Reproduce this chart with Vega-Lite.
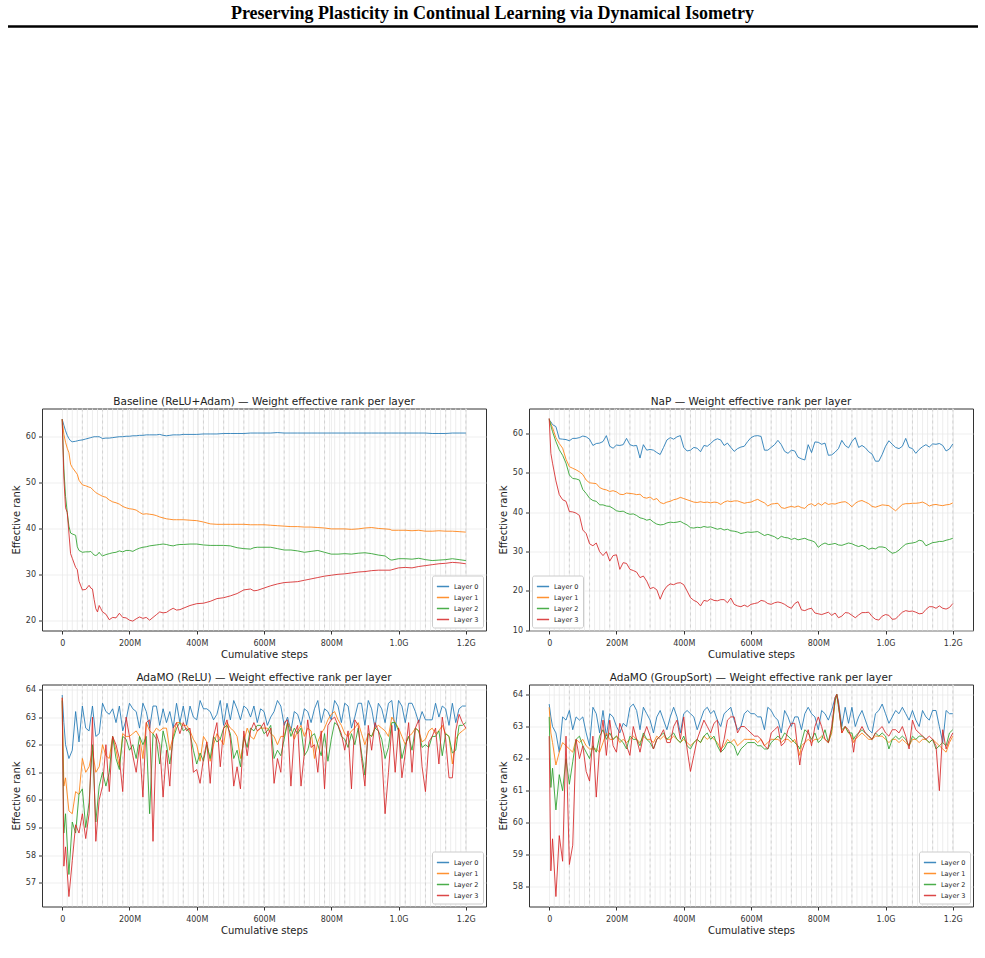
{
"$schema":"https://vega.github.io/schema/vega-lite/v6.json",
"background":"white",
"padding":{"left":6,"top":4.5,"right":5,"bottom":5},
"config":{
"font":"DejaVu Sans",
"view":{"stroke":"#333333","strokeWidth":1},
"axis":{"labelFont":"DejaVu Sans","labelFontSize":8,"labelColor":"#333333","titleFont":"DejaVu Sans","titleFontSize":10,"titleFontWeight":"normal","titleColor":"#222222","tickColor":"#333333","tickSize":3.5,"domain":false,"gridColor":"#ebebeb","gridWidth":0.8},
"axisX":{"labelPadding":5.5,"titlePadding":1.5},
"axisY":{"labelPadding":3,"titlePadding":4},
"title":{"font":"DejaVu Sans","fontSize":10.5,"fontWeight":"normal","color":"#222222","offset":1},
"legend":{"offset":3,"fillColor":"white","strokeColor":"#cccccc","cornerRadius":2,"padding":4,"symbolType":"stroke","symbolStrokeWidth":1.5,"symbolSize":150,"labelFontSize":6.5,"labelColor":"#222222","rowPadding":0}
},
"datasets":{
"minor":[{"x":15},{"x":30},{"x":45},{"x":60},{"x":75},{"x":90},{"x":105},{"x":120},{"x":135},{"x":150},{"x":165},{"x":180},{"x":195},{"x":210},{"x":225},{"x":240},{"x":255},{"x":270},{"x":285},{"x":300},{"x":315},{"x":330},{"x":345},{"x":360},{"x":375},{"x":390},{"x":405},{"x":420},{"x":435},{"x":450},{"x":465},{"x":480},{"x":495},{"x":510},{"x":525},{"x":540},{"x":555},{"x":570},{"x":585},{"x":600},{"x":615},{"x":630},{"x":645},{"x":660},{"x":675},{"x":690},{"x":705},{"x":720},{"x":735},{"x":750},{"x":765},{"x":780},{"x":795},{"x":810},{"x":825},{"x":840},{"x":855},{"x":870},{"x":885},{"x":900},{"x":915},{"x":930},{"x":945},{"x":960},{"x":975},{"x":990},{"x":1005},{"x":1020},{"x":1035},{"x":1050},{"x":1065},{"x":1080},{"x":1095},{"x":1110},{"x":1125},{"x":1140},{"x":1155},{"x":1170},{"x":1185},{"x":1200}],
"major":[{"x":60},{"x":120},{"x":180},{"x":240},{"x":300},{"x":360},{"x":420},{"x":480},{"x":540},{"x":600},{"x":660},{"x":720},{"x":780},{"x":840},{"x":900},{"x":960},{"x":1020},{"x":1080},{"x":1140},{"x":1200}],
"base":[
{"x":0,"L0":63.8,"L1":63.8,"L2":63.8,"L3":63.8},
{"x":5,"L0":62.5,"L1":60.5,"L2":53,"L3":51},
{"x":10,"L0":61.3,"L1":58.8,"L2":47,"L3":44.5},
{"x":15,"L0":60.3,"L1":57.5,"L2":43.5,"L3":43.5},
{"x":20,"L0":59.6,"L1":56.5,"L2":40.5,"L3":39},
{"x":25,"L0":59.1,"L1":54,"L2":39,"L3":34.5},
{"x":30,"L0":58.9,"L1":53.3,"L2":38.8,"L3":33.5},
{"x":40,"L0":59.0,"L1":52.3,"L2":38.5,"L3":31.5},
{"x":45,"L0":59.1,"L1":51.8,"L2":36,"L3":31},
{"x":50,"L0":59.2,"L1":50.5,"L2":35.2,"L3":28.5},
{"x":60,"L0":59.3,"L1":49.5,"L2":34.8,"L3":26.6},
{"x":70,"L0":59.5,"L1":49.3,"L2":34.9,"L3":26.7},
{"x":80,"L0":59.7,"L1":49.0,"L2":34.9,"L3":27.6},
{"x":85,"L0":59.8,"L1":48.9,"L2":35.0,"L3":27.0},
{"x":90,"L0":59.9,"L1":48.5,"L2":34.6,"L3":26.8},
{"x":95,"L0":60.0,"L1":48.2,"L2":34.2,"L3":24.5},
{"x":100,"L0":60.0,"L1":47.8,"L2":34.1,"L3":22.5},
{"x":105,"L0":60.0,"L1":47.6,"L2":34.3,"L3":21.8},
{"x":110,"L0":60.0,"L1":47.4,"L2":34.8,"L3":23.2},
{"x":115,"L0":59.8,"L1":47.2,"L2":34.3,"L3":22.5},
{"x":120,"L0":59.6,"L1":47.0,"L2":34.0,"L3":21.8},
{"x":130,"L0":59.7,"L1":46.8,"L2":34.3,"L3":21.3},
{"x":140,"L0":59.7,"L1":46.2,"L2":34.5,"L3":20.1},
{"x":150,"L0":59.8,"L1":45.8,"L2":34.7,"L3":20.6},
{"x":160,"L0":59.9,"L1":45.6,"L2":34.8,"L3":20.5},
{"x":170,"L0":60.0,"L1":45.3,"L2":35.1,"L3":21.5},
{"x":180,"L0":60.0,"L1":44.8,"L2":34.9,"L3":20.6},
{"x":190,"L0":60.1,"L1":44.5,"L2":35.2,"L3":20.5},
{"x":200,"L0":60.1,"L1":44.3,"L2":35.2,"L3":20.0},
{"x":210,"L0":60.2,"L1":44.2,"L2":35.0,"L3":19.8},
{"x":220,"L0":60.2,"L1":44.0,"L2":35.4,"L3":20.3},
{"x":230,"L0":60.3,"L1":43.5,"L2":35.7,"L3":20.7},
{"x":240,"L0":60.3,"L1":43.1,"L2":35.9,"L3":20.4},
{"x":250,"L0":60.4,"L1":43.2,"L2":36.0,"L3":20.6},
{"x":260,"L0":60.4,"L1":43.1,"L2":36.2,"L3":20.0},
{"x":270,"L0":60.4,"L1":43.0,"L2":36.3,"L3":20.6},
{"x":280,"L0":60.4,"L1":42.8,"L2":36.4,"L3":21.2},
{"x":290,"L0":60.5,"L1":42.5,"L2":36.5,"L3":21.8},
{"x":300,"L0":60.3,"L1":42.3,"L2":36.6,"L3":21.6},
{"x":310,"L0":60.2,"L1":42.1,"L2":36.5,"L3":21.7},
{"x":320,"L0":60.3,"L1":42.0,"L2":36.3,"L3":22.2},
{"x":330,"L0":60.4,"L1":41.9,"L2":36.2,"L3":22.6},
{"x":340,"L0":60.4,"L1":41.9,"L2":36.4,"L3":22.2},
{"x":350,"L0":60.4,"L1":41.9,"L2":36.5,"L3":22.3},
{"x":360,"L0":60.5,"L1":41.9,"L2":36.5,"L3":22.6},
{"x":380,"L0":60.5,"L1":41.8,"L2":36.6,"L3":23.2},
{"x":400,"L0":60.5,"L1":41.7,"L2":36.6,"L3":23.6},
{"x":420,"L0":60.6,"L1":41.4,"L2":36.4,"L3":23.7},
{"x":440,"L0":60.6,"L1":41.0,"L2":36.3,"L3":24.1},
{"x":460,"L0":60.6,"L1":40.9,"L2":36.3,"L3":24.7},
{"x":480,"L0":60.7,"L1":40.9,"L2":36.3,"L3":24.9},
{"x":500,"L0":60.7,"L1":40.9,"L2":36.2,"L3":25.3},
{"x":520,"L0":60.7,"L1":40.9,"L2":35.8,"L3":25.8},
{"x":540,"L0":60.7,"L1":40.9,"L2":35.6,"L3":26.6},
{"x":560,"L0":60.8,"L1":40.8,"L2":35.5,"L3":26.8},
{"x":570,"L0":60.8,"L1":40.8,"L2":35.8,"L3":26.4},
{"x":580,"L0":60.8,"L1":40.8,"L2":35.9,"L3":26.5},
{"x":600,"L0":60.8,"L1":40.8,"L2":35.9,"L3":27.0},
{"x":620,"L0":60.8,"L1":40.7,"L2":35.9,"L3":27.5},
{"x":640,"L0":60.9,"L1":40.6,"L2":35.6,"L3":27.9},
{"x":660,"L0":60.8,"L1":40.5,"L2":35.3,"L3":28.2},
{"x":680,"L0":60.8,"L1":40.4,"L2":35.3,"L3":28.3},
{"x":700,"L0":60.8,"L1":40.4,"L2":35.1,"L3":28.4},
{"x":720,"L0":60.8,"L1":40.3,"L2":34.8,"L3":28.7},
{"x":740,"L0":60.8,"L1":40.3,"L2":35.0,"L3":29.0},
{"x":760,"L0":60.8,"L1":40.2,"L2":35.2,"L3":29.3},
{"x":780,"L0":60.8,"L1":40.1,"L2":34.8,"L3":29.6},
{"x":800,"L0":60.8,"L1":39.9,"L2":34.4,"L3":29.8},
{"x":820,"L0":60.8,"L1":39.9,"L2":34.4,"L3":30.0},
{"x":840,"L0":60.8,"L1":39.9,"L2":34.5,"L3":30.1},
{"x":860,"L0":60.8,"L1":39.8,"L2":34.4,"L3":30.3},
{"x":880,"L0":60.8,"L1":39.9,"L2":34.6,"L3":30.5},
{"x":900,"L0":60.8,"L1":40.1,"L2":34.7,"L3":30.6},
{"x":920,"L0":60.8,"L1":40.2,"L2":34.5,"L3":30.8},
{"x":940,"L0":60.8,"L1":40.0,"L2":34.2,"L3":30.9},
{"x":960,"L0":60.8,"L1":39.9,"L2":34.0,"L3":30.9},
{"x":975,"L0":60.8,"L1":39.8,"L2":33.2,"L3":30.9},
{"x":980,"L0":60.8,"L1":39.6,"L2":33.1,"L3":31.0},
{"x":1000,"L0":60.8,"L1":39.6,"L2":33.4,"L3":31.4},
{"x":1020,"L0":60.8,"L1":39.6,"L2":33.4,"L3":31.5},
{"x":1040,"L0":60.8,"L1":39.5,"L2":33.3,"L3":31.4},
{"x":1060,"L0":60.8,"L1":39.6,"L2":33.5,"L3":31.7},
{"x":1080,"L0":60.8,"L1":39.4,"L2":33.2,"L3":31.9},
{"x":1100,"L0":60.7,"L1":39.4,"L2":33.0,"L3":32.1},
{"x":1120,"L0":60.7,"L1":39.5,"L2":33.1,"L3":32.3},
{"x":1140,"L0":60.7,"L1":39.4,"L2":33.2,"L3":32.4},
{"x":1160,"L0":60.8,"L1":39.4,"L2":33.4,"L3":32.6},
{"x":1180,"L0":60.8,"L1":39.3,"L2":33.2,"L3":32.5},
{"x":1200,"L0":60.8,"L1":39.2,"L2":33.0,"L3":32.3}
],
"nap":[
{"x":0,"L0":63.5,"L1":63.5,"L2":63.8,"L3":63.9},
{"x":5,"L0":63.0,"L1":62.5,"L2":62.0,"L3":55.0},
{"x":10,"L0":62.3,"L1":61.5,"L2":60.5,"L3":52.5},
{"x":20,"L0":61.8,"L1":59.0,"L2":58.0,"L3":48.0},
{"x":30,"L0":58.7,"L1":57.5,"L2":55.9,"L3":44.5},
{"x":40,"L0":58.6,"L1":56.3,"L2":54.5,"L3":43.2},
{"x":50,"L0":58.5,"L1":53.5,"L2":52.5,"L3":42.8},
{"x":60,"L0":58.2,"L1":51.6,"L2":49.5,"L3":40.2},
{"x":70,"L0":58.8,"L1":51.2,"L2":48.6,"L3":40.1},
{"x":80,"L0":58.8,"L1":50.8,"L2":48.5,"L3":39.8},
{"x":90,"L0":59.0,"L1":50.3,"L2":48.2,"L3":39.2},
{"x":100,"L0":59.4,"L1":49.6,"L2":45.8,"L3":35.5},
{"x":110,"L0":59.2,"L1":48.2,"L2":44.8,"L3":34.6},
{"x":120,"L0":58.6,"L1":47.5,"L2":43.6,"L3":32.0},
{"x":130,"L0":57.0,"L1":47.4,"L2":43.0,"L3":31.5},
{"x":140,"L0":57.5,"L1":47.3,"L2":42.8,"L3":32.2},
{"x":150,"L0":57.6,"L1":46.3,"L2":41.9,"L3":30.0},
{"x":160,"L0":58.0,"L1":45.9,"L2":41.9,"L3":29.0},
{"x":170,"L0":59.5,"L1":45.7,"L2":41.6,"L3":30.0},
{"x":180,"L0":56.8,"L1":45.3,"L2":41.5,"L3":27.6},
{"x":190,"L0":56.3,"L1":45.5,"L2":41.0,"L3":29.0},
{"x":200,"L0":57.1,"L1":45.2,"L2":40.4,"L3":29.2},
{"x":210,"L0":57.0,"L1":44.6,"L2":40.2,"L3":25.5},
{"x":220,"L0":57.2,"L1":44.5,"L2":40.3,"L3":27.2},
{"x":230,"L0":58.8,"L1":44.9,"L2":39.8,"L3":27.0},
{"x":240,"L0":57.2,"L1":44.8,"L2":39.5,"L3":25.5},
{"x":250,"L0":56.9,"L1":44.7,"L2":39.6,"L3":25.2},
{"x":260,"L0":57.0,"L1":44.5,"L2":39.2,"L3":24.8},
{"x":270,"L0":53.8,"L1":44.6,"L2":38.6,"L3":23.4},
{"x":280,"L0":57.2,"L1":43.8,"L2":38.4,"L3":23.8},
{"x":290,"L0":55.8,"L1":43.6,"L2":38.0,"L3":22.5},
{"x":300,"L0":56.0,"L1":43.9,"L2":38.2,"L3":20.6},
{"x":310,"L0":55.8,"L1":43.2,"L2":37.5,"L3":20.9},
{"x":320,"L0":55.2,"L1":43.5,"L2":37.0,"L3":20.3},
{"x":330,"L0":54.7,"L1":42.5,"L2":36.8,"L3":17.9},
{"x":340,"L0":56.5,"L1":42.2,"L2":36.9,"L3":20.0},
{"x":350,"L0":58.4,"L1":42.6,"L2":37.3,"L3":21.2},
{"x":360,"L0":59.0,"L1":42.8,"L2":37.5,"L3":21.8},
{"x":370,"L0":58.6,"L1":43.2,"L2":37.4,"L3":21.6},
{"x":380,"L0":59.2,"L1":43.4,"L2":37.5,"L3":22.0},
{"x":390,"L0":59.5,"L1":43.8,"L2":37.7,"L3":22.1},
{"x":400,"L0":56.5,"L1":43.5,"L2":37.2,"L3":21.6},
{"x":410,"L0":55.6,"L1":43.2,"L2":36.8,"L3":20.0},
{"x":420,"L0":55.8,"L1":42.9,"L2":36.1,"L3":18.3},
{"x":430,"L0":56.5,"L1":42.6,"L2":36.0,"L3":17.6},
{"x":440,"L0":56.3,"L1":42.5,"L2":36.2,"L3":17.2},
{"x":450,"L0":55.4,"L1":42.7,"L2":36.1,"L3":16.2},
{"x":460,"L0":57.0,"L1":42.5,"L2":36.4,"L3":17.6},
{"x":470,"L0":56.8,"L1":42.6,"L2":36.2,"L3":17.4},
{"x":480,"L0":57.5,"L1":42.4,"L2":36.3,"L3":18.0},
{"x":490,"L0":58.3,"L1":42.6,"L2":36.0,"L3":17.6},
{"x":500,"L0":58.7,"L1":42.5,"L2":35.7,"L3":17.5},
{"x":510,"L0":58.4,"L1":42.0,"L2":35.9,"L3":17.8},
{"x":520,"L0":57.0,"L1":42.6,"L2":35.5,"L3":17.8},
{"x":530,"L0":57.6,"L1":42.9,"L2":35.7,"L3":17.0},
{"x":540,"L0":56.5,"L1":42.7,"L2":35.3,"L3":18.2},
{"x":550,"L0":55.5,"L1":42.9,"L2":35.2,"L3":16.6},
{"x":560,"L0":56.2,"L1":42.9,"L2":35.0,"L3":16.2},
{"x":570,"L0":56.6,"L1":42.6,"L2":34.6,"L3":16.0},
{"x":580,"L0":56.8,"L1":42.3,"L2":34.8,"L3":16.4},
{"x":590,"L0":58.0,"L1":42.5,"L2":35.0,"L3":16.0},
{"x":600,"L0":59.0,"L1":42.6,"L2":34.9,"L3":16.6},
{"x":610,"L0":59.4,"L1":43.0,"L2":35.0,"L3":16.8},
{"x":620,"L0":59.5,"L1":43.3,"L2":35.1,"L3":17.0},
{"x":630,"L0":59.3,"L1":42.8,"L2":34.6,"L3":17.6},
{"x":640,"L0":55.8,"L1":42.4,"L2":34.1,"L3":17.4},
{"x":650,"L0":55.8,"L1":41.6,"L2":34.4,"L3":16.8},
{"x":660,"L0":56.5,"L1":42.1,"L2":34.1,"L3":16.6},
{"x":670,"L0":57.2,"L1":42.2,"L2":33.8,"L3":17.0},
{"x":680,"L0":58.3,"L1":42.3,"L2":33.2,"L3":17.2},
{"x":690,"L0":57.2,"L1":41.2,"L2":33.9,"L3":17.0},
{"x":700,"L0":55.5,"L1":41.0,"L2":33.6,"L3":16.6},
{"x":710,"L0":55.0,"L1":41.3,"L2":33.5,"L3":16.0},
{"x":720,"L0":55.8,"L1":41.5,"L2":33.1,"L3":15.6},
{"x":730,"L0":55.6,"L1":41.3,"L2":33.4,"L3":16.8},
{"x":740,"L0":54.0,"L1":41.6,"L2":33.0,"L3":17.3},
{"x":750,"L0":53.6,"L1":41.2,"L2":33.2,"L3":15.2},
{"x":760,"L0":53.3,"L1":41.0,"L2":33.4,"L3":15.0},
{"x":770,"L0":57.2,"L1":41.9,"L2":33.0,"L3":15.4},
{"x":780,"L0":55.2,"L1":42.2,"L2":32.8,"L3":15.6},
{"x":790,"L0":57.9,"L1":41.6,"L2":32.4,"L3":14.4},
{"x":800,"L0":57.8,"L1":42.3,"L2":31.1,"L3":14.2},
{"x":810,"L0":57.3,"L1":41.8,"L2":31.8,"L3":14.0},
{"x":820,"L0":57.6,"L1":42.5,"L2":32.2,"L3":14.3},
{"x":830,"L0":54.5,"L1":42.0,"L2":31.8,"L3":14.6},
{"x":840,"L0":54.6,"L1":42.2,"L2":31.9,"L3":13.8},
{"x":850,"L0":55.3,"L1":42.1,"L2":32.1,"L3":14.4},
{"x":860,"L0":56.2,"L1":42.4,"L2":31.7,"L3":13.2},
{"x":870,"L0":58.3,"L1":42.6,"L2":31.6,"L3":13.6},
{"x":880,"L0":57.0,"L1":42.7,"L2":31.9,"L3":14.5},
{"x":890,"L0":56.4,"L1":42.2,"L2":32.2,"L3":14.4},
{"x":900,"L0":58.0,"L1":41.4,"L2":32.0,"L3":13.8},
{"x":910,"L0":59.0,"L1":42.3,"L2":31.6,"L3":13.2},
{"x":920,"L0":56.5,"L1":42.8,"L2":31.3,"L3":13.9},
{"x":930,"L0":57.0,"L1":43.0,"L2":31.6,"L3":14.5},
{"x":940,"L0":56.4,"L1":42.6,"L2":31.2,"L3":14.5},
{"x":950,"L0":55.4,"L1":42.2,"L2":30.6,"L3":14.6},
{"x":960,"L0":54.8,"L1":41.5,"L2":30.9,"L3":13.5},
{"x":970,"L0":53.0,"L1":41.3,"L2":30.7,"L3":12.8},
{"x":980,"L0":53.0,"L1":41.6,"L2":31.2,"L3":12.6},
{"x":990,"L0":54.7,"L1":41.9,"L2":31.2,"L3":13.6},
{"x":1000,"L0":56.8,"L1":41.8,"L2":31.0,"L3":14.0},
{"x":1010,"L0":58.2,"L1":41.7,"L2":30.2,"L3":13.8},
{"x":1020,"L0":57.3,"L1":41.0,"L2":29.6,"L3":12.8},
{"x":1030,"L0":56.5,"L1":40.4,"L2":29.8,"L3":12.9},
{"x":1040,"L0":56.2,"L1":41.2,"L2":30.4,"L3":13.8},
{"x":1050,"L0":56.8,"L1":42.0,"L2":31.2,"L3":14.6},
{"x":1060,"L0":58.8,"L1":42.2,"L2":31.9,"L3":15.0},
{"x":1070,"L0":56.5,"L1":42.2,"L2":32.1,"L3":14.8},
{"x":1080,"L0":56.2,"L1":42.3,"L2":32.2,"L3":14.9},
{"x":1090,"L0":55.0,"L1":42.3,"L2":32.4,"L3":14.6},
{"x":1100,"L0":56.0,"L1":42.4,"L2":32.9,"L3":14.2},
{"x":1110,"L0":56.7,"L1":42.6,"L2":32.7,"L3":14.3},
{"x":1120,"L0":57.2,"L1":42.2,"L2":31.5,"L3":15.3},
{"x":1130,"L0":56.6,"L1":41.6,"L2":31.9,"L3":16.0},
{"x":1140,"L0":57.4,"L1":41.9,"L2":32.3,"L3":16.0},
{"x":1150,"L0":57.3,"L1":42.0,"L2":32.4,"L3":15.6},
{"x":1160,"L0":57.5,"L1":41.8,"L2":32.6,"L3":16.2},
{"x":1170,"L0":57.0,"L1":41.7,"L2":32.6,"L3":15.6},
{"x":1180,"L0":55.6,"L1":41.9,"L2":32.9,"L3":15.4},
{"x":1190,"L0":56.1,"L1":42.0,"L2":33.1,"L3":15.8},
{"x":1200,"L0":57.4,"L1":42.4,"L2":33.4,"L3":16.8}
],
"relu":[
{"x":0,"L0":63.8,"L1":63.7,"L2":63.6,"L3":63.7},
{"x":5,"L0":62.8,"L1":60.5,"L2":58.8,"L3":57.6},
{"x":10,"L0":62.0,"L1":60.8,"L2":59.5,"L3":58.3},
{"x":20,"L0":61.5,"L1":59.6,"L2":57.3,"L3":56.5},
{"x":30,"L0":61.8,"L1":59.5,"L2":59.2,"L3":57.8},
{"x":40,"L0":63.2,"L1":60.3,"L2":58.8,"L3":59.1},
{"x":50,"L0":62.1,"L1":60.2,"L2":60.2,"L3":58.8},
{"x":60,"L0":63.4,"L1":61.5,"L2":60.4,"L3":59.5},
{"x":70,"L0":62.6,"L1":61.0,"L2":59.0,"L3":58.6},
{"x":80,"L0":62.5,"L1":61.2,"L2":59.9,"L3":59.5},
{"x":90,"L0":63.4,"L1":61.8,"L2":62.0,"L3":63.0},
{"x":100,"L0":62.3,"L1":61.0,"L2":59.2,"L3":58.5},
{"x":110,"L0":62.4,"L1":61.2,"L2":60.5,"L3":60.0},
{"x":120,"L0":63.5,"L1":62.0,"L2":61.0,"L3":60.5},
{"x":130,"L0":63.2,"L1":61.6,"L2":60.5,"L3":62.0},
{"x":140,"L0":63.1,"L1":61.5,"L2":61.0,"L3":60.3},
{"x":150,"L0":63.3,"L1":62.3,"L2":62.3,"L3":62.3},
{"x":160,"L0":62.8,"L1":61.8,"L2":61.5,"L3":62.0},
{"x":170,"L0":63.4,"L1":61.2,"L2":61.1,"L3":61.5},
{"x":180,"L0":62.5,"L1":62.4,"L2":62.3,"L3":60.3},
{"x":190,"L0":62.9,"L1":62.3,"L2":62.2,"L3":63.0},
{"x":200,"L0":63.5,"L1":62.3,"L2":61.8,"L3":62.3},
{"x":210,"L0":63.3,"L1":62.4,"L2":62.0,"L3":61.6},
{"x":220,"L0":63.2,"L1":62.5,"L2":61.5,"L3":61.0},
{"x":230,"L0":62.6,"L1":62.3,"L2":62.3,"L3":62.0},
{"x":240,"L0":63.5,"L1":61.5,"L2":62.0,"L3":60.1},
{"x":250,"L0":63.2,"L1":62.8,"L2":62.3,"L3":62.8},
{"x":260,"L0":62.6,"L1":62.5,"L2":59.5,"L3":62.9},
{"x":270,"L0":63.4,"L1":62.4,"L2":62.4,"L3":58.5},
{"x":280,"L0":63.4,"L1":62.6,"L2":62.2,"L3":62.4},
{"x":290,"L0":62.7,"L1":62.5,"L2":61.3,"L3":62.0},
{"x":300,"L0":63.3,"L1":62.6,"L2":62.5,"L3":60.1},
{"x":310,"L0":62.8,"L1":62.6,"L2":62.0,"L3":61.8},
{"x":320,"L0":63.2,"L1":61.8,"L2":61.3,"L3":60.5},
{"x":330,"L0":62.6,"L1":62.3,"L2":62.2,"L3":62.6},
{"x":340,"L0":63.5,"L1":62.8,"L2":62.6,"L3":62.8},
{"x":350,"L0":62.8,"L1":62.8,"L2":62.8,"L3":62.4},
{"x":360,"L0":63.4,"L1":62.7,"L2":62.5,"L3":62.8},
{"x":370,"L0":62.7,"L1":62.7,"L2":62.6,"L3":62.5},
{"x":380,"L0":63.4,"L1":62.5,"L2":62.4,"L3":62.6},
{"x":390,"L0":63.0,"L1":62.2,"L2":61.8,"L3":61.0},
{"x":400,"L0":62.9,"L1":62.0,"L2":61.3,"L3":61.1},
{"x":410,"L0":63.6,"L1":61.4,"L2":61.7,"L3":60.6},
{"x":420,"L0":63.3,"L1":62.3,"L2":61.4,"L3":61.5},
{"x":430,"L0":63.3,"L1":62.1,"L2":62.0,"L3":62.1},
{"x":440,"L0":63.2,"L1":61.4,"L2":61.5,"L3":60.6},
{"x":450,"L0":62.9,"L1":62.0,"L2":62.3,"L3":62.3},
{"x":460,"L0":63.1,"L1":62.4,"L2":62.1,"L3":62.8},
{"x":470,"L0":63.6,"L1":62.2,"L2":62.2,"L3":61.2},
{"x":480,"L0":62.7,"L1":62.0,"L2":62.6,"L3":62.6},
{"x":490,"L0":63.5,"L1":62.8,"L2":62.7,"L3":62.9},
{"x":500,"L0":62.9,"L1":62.6,"L2":62.4,"L3":62.2},
{"x":510,"L0":63.6,"L1":62.5,"L2":61.5,"L3":60.5},
{"x":520,"L0":63.3,"L1":62.3,"L2":61.8,"L3":61.2},
{"x":530,"L0":62.9,"L1":61.5,"L2":61.2,"L3":60.4},
{"x":540,"L0":63.4,"L1":62.1,"L2":62.3,"L3":62.5},
{"x":550,"L0":63.3,"L1":62.6,"L2":61.9,"L3":61.6},
{"x":560,"L0":63.0,"L1":62.3,"L2":62.6,"L3":62.5},
{"x":570,"L0":63.4,"L1":62.2,"L2":62.5,"L3":62.8},
{"x":580,"L0":62.8,"L1":62.5,"L2":62.7,"L3":62.5},
{"x":590,"L0":63.3,"L1":62.6,"L2":62.7,"L3":62.6},
{"x":600,"L0":63.2,"L1":62.6,"L2":62.4,"L3":62.8},
{"x":610,"L0":62.7,"L1":62.6,"L2":62.5,"L3":62.3},
{"x":620,"L0":63.0,"L1":62.4,"L2":62.7,"L3":62.6},
{"x":630,"L0":63.2,"L1":62.3,"L2":61.5,"L3":60.6},
{"x":640,"L0":63.6,"L1":62.0,"L2":61.8,"L3":61.5},
{"x":650,"L0":63.4,"L1":62.3,"L2":61.6,"L3":61.0},
{"x":660,"L0":62.7,"L1":62.3,"L2":62.2,"L3":62.8},
{"x":670,"L0":63.0,"L1":62.8,"L2":62.8,"L3":62.9},
{"x":680,"L0":62.5,"L1":62.6,"L2":62.3,"L3":60.5},
{"x":690,"L0":63.2,"L1":62.2,"L2":62.6,"L3":62.4},
{"x":700,"L0":63.1,"L1":62.5,"L2":62.4,"L3":62.7},
{"x":710,"L0":62.7,"L1":62.7,"L2":62.6,"L3":60.5},
{"x":720,"L0":63.3,"L1":62.3,"L2":61.6,"L3":61.7},
{"x":730,"L0":63.2,"L1":62.6,"L2":61.8,"L3":62.9},
{"x":740,"L0":62.8,"L1":62.5,"L2":62.3,"L3":61.9},
{"x":750,"L0":63.3,"L1":61.5,"L2":62.4,"L3":62.0},
{"x":760,"L0":63.6,"L1":62.1,"L2":62.0,"L3":61.0},
{"x":770,"L0":62.8,"L1":62.4,"L2":61.6,"L3":62.5},
{"x":780,"L0":63.3,"L1":62.6,"L2":62.4,"L3":60.4},
{"x":790,"L0":63.2,"L1":62.9,"L2":61.4,"L3":62.7},
{"x":800,"L0":62.9,"L1":63.1,"L2":62.2,"L3":62.9},
{"x":810,"L0":63.6,"L1":63.2,"L2":62.8,"L3":63.0},
{"x":820,"L0":63.4,"L1":62.9,"L2":62.7,"L3":62.7},
{"x":830,"L0":62.8,"L1":62.7,"L2":62.3,"L3":62.4},
{"x":840,"L0":63.5,"L1":62.4,"L2":62.2,"L3":61.8},
{"x":850,"L0":63.4,"L1":62.3,"L2":61.9,"L3":62.5},
{"x":860,"L0":62.6,"L1":62.5,"L2":62.4,"L3":60.4},
{"x":870,"L0":63.0,"L1":62.6,"L2":62.0,"L3":62.9},
{"x":880,"L0":63.5,"L1":62.8,"L2":62.6,"L3":62.7},
{"x":890,"L0":63.5,"L1":62.4,"L2":61.7,"L3":61.5},
{"x":900,"L0":62.7,"L1":62.0,"L2":60.9,"L3":60.5},
{"x":910,"L0":63.6,"L1":62.4,"L2":62.4,"L3":62.7},
{"x":920,"L0":63.3,"L1":62.3,"L2":62.3,"L3":61.8},
{"x":930,"L0":62.6,"L1":62.6,"L2":62.6,"L3":62.8},
{"x":940,"L0":63.5,"L1":62.7,"L2":62.5,"L3":62.5},
{"x":950,"L0":63.3,"L1":62.6,"L2":62.2,"L3":61.7},
{"x":960,"L0":62.8,"L1":62.5,"L2":61.5,"L3":59.5},
{"x":970,"L0":63.5,"L1":62.3,"L2":61.9,"L3":61.0},
{"x":980,"L0":63.6,"L1":63.0,"L2":62.8,"L3":62.7},
{"x":990,"L0":62.5,"L1":62.8,"L2":62.8,"L3":61.0},
{"x":1000,"L0":63.6,"L1":62.6,"L2":62.5,"L3":62.6},
{"x":1010,"L0":63.4,"L1":62.3,"L2":61.5,"L3":60.8},
{"x":1020,"L0":62.8,"L1":62.0,"L2":62.0,"L3":61.7},
{"x":1030,"L0":63.5,"L1":62.3,"L2":62.3,"L3":62.8},
{"x":1040,"L0":63.5,"L1":62.4,"L2":61.8,"L3":61.0},
{"x":1050,"L0":63.2,"L1":62.6,"L2":62.6,"L3":62.6},
{"x":1060,"L0":62.8,"L1":62.5,"L2":62.5,"L3":62.9},
{"x":1070,"L0":63.2,"L1":62.1,"L2":61.9,"L3":61.2},
{"x":1080,"L0":62.9,"L1":62.2,"L2":62.0,"L3":60.3},
{"x":1090,"L0":62.9,"L1":62.5,"L2":61.9,"L3":62.1},
{"x":1100,"L0":62.9,"L1":62.6,"L2":62.3,"L3":62.3},
{"x":1110,"L0":63.5,"L1":62.4,"L2":62.3,"L3":62.6},
{"x":1120,"L0":63.0,"L1":62.5,"L2":62.5,"L3":61.3},
{"x":1130,"L0":63.4,"L1":62.7,"L2":61.6,"L3":63.0},
{"x":1140,"L0":63.3,"L1":62.4,"L2":62.4,"L3":62.2},
{"x":1150,"L0":62.7,"L1":62.3,"L2":62.3,"L3":60.8},
{"x":1160,"L0":63.5,"L1":61.3,"L2":61.7,"L3":60.8},
{"x":1170,"L0":62.8,"L1":62.2,"L2":61.8,"L3":62.5},
{"x":1180,"L0":63.3,"L1":62.4,"L2":62.7,"L3":63.1},
{"x":1190,"L0":63.4,"L1":62.5,"L2":62.7,"L3":62.8},
{"x":1200,"L0":63.4,"L1":62.6,"L2":62.8,"L3":62.6}
],
"gs":[
{"x":0,"L0":63.7,"L1":63.6,"L2":63.3,"L3":62.7},
{"x":5,"L0":63.3,"L1":62.8,"L2":61.1,"L3":58.5},
{"x":10,"L0":63.0,"L1":62.5,"L2":61.7,"L3":59.5},
{"x":20,"L0":62.8,"L1":61.8,"L2":60.4,"L3":57.7},
{"x":30,"L0":62.2,"L1":62.2,"L2":61.5,"L3":59.6},
{"x":40,"L0":63.3,"L1":62.5,"L2":61.0,"L3":58.8},
{"x":50,"L0":63.2,"L1":62.4,"L2":62.0,"L3":62.7},
{"x":60,"L0":63.5,"L1":62.3,"L2":61.2,"L3":58.7},
{"x":70,"L0":62.9,"L1":62.2,"L2":61.9,"L3":59.3},
{"x":80,"L0":63.3,"L1":62.6,"L2":62.6,"L3":62.6},
{"x":90,"L0":63.2,"L1":62.5,"L2":62.7,"L3":62.0},
{"x":100,"L0":63.3,"L1":62.6,"L2":62.4,"L3":62.4},
{"x":110,"L0":62.8,"L1":62.4,"L2":62.2,"L3":61.6},
{"x":120,"L0":62.4,"L1":62.3,"L2":62.0,"L3":61.3},
{"x":130,"L0":63.6,"L1":62.3,"L2":62.4,"L3":62.7},
{"x":140,"L0":63.4,"L1":62.3,"L2":62.2,"L3":60.8},
{"x":150,"L0":62.8,"L1":62.2,"L2":62.7,"L3":62.4},
{"x":160,"L0":63.5,"L1":62.5,"L2":62.9,"L3":63.2},
{"x":170,"L0":62.7,"L1":62.8,"L2":62.6,"L3":62.1},
{"x":180,"L0":63.4,"L1":62.6,"L2":62.8,"L3":63.2},
{"x":190,"L0":63.3,"L1":62.6,"L2":62.6,"L3":62.4},
{"x":200,"L0":63.0,"L1":62.7,"L2":62.7,"L3":62.2},
{"x":210,"L0":62.8,"L1":62.5,"L2":62.6,"L3":63.1},
{"x":220,"L0":63.1,"L1":62.6,"L2":62.5,"L3":62.8},
{"x":230,"L0":63.0,"L1":62.5,"L2":62.3,"L3":62.4},
{"x":240,"L0":63.6,"L1":62.6,"L2":62.7,"L3":62.1},
{"x":250,"L0":63.7,"L1":62.7,"L2":62.6,"L3":63.0},
{"x":260,"L0":63.5,"L1":62.6,"L2":62.6,"L3":62.6},
{"x":270,"L0":62.9,"L1":62.5,"L2":62.4,"L3":62.2},
{"x":280,"L0":63.6,"L1":62.7,"L2":62.8,"L3":62.7},
{"x":290,"L0":63.4,"L1":62.6,"L2":62.6,"L3":63.0},
{"x":300,"L0":63.2,"L1":62.6,"L2":62.5,"L3":62.7},
{"x":310,"L0":62.8,"L1":62.5,"L2":62.3,"L3":62.3},
{"x":320,"L0":63.3,"L1":62.7,"L2":62.6,"L3":62.6},
{"x":330,"L0":63.5,"L1":62.6,"L2":62.7,"L3":62.7},
{"x":340,"L0":63.2,"L1":62.7,"L2":62.8,"L3":62.9},
{"x":350,"L0":62.9,"L1":62.6,"L2":62.6,"L3":62.5},
{"x":360,"L0":63.3,"L1":62.6,"L2":62.7,"L3":62.5},
{"x":370,"L0":63.6,"L1":62.7,"L2":62.8,"L3":63.0},
{"x":380,"L0":63.3,"L1":62.6,"L2":62.6,"L3":63.2},
{"x":390,"L0":62.8,"L1":62.5,"L2":62.5,"L3":62.6},
{"x":400,"L0":63.4,"L1":62.6,"L2":62.7,"L3":63.3},
{"x":410,"L0":63.5,"L1":62.5,"L2":62.4,"L3":62.3},
{"x":420,"L0":63.4,"L1":62.4,"L2":62.3,"L3":61.6},
{"x":430,"L0":63.3,"L1":62.5,"L2":62.5,"L3":62.1},
{"x":440,"L0":62.9,"L1":62.6,"L2":62.6,"L3":62.6},
{"x":450,"L0":63.2,"L1":62.5,"L2":62.5,"L3":62.9},
{"x":460,"L0":63.5,"L1":62.7,"L2":62.7,"L3":63.2},
{"x":470,"L0":63.6,"L1":62.6,"L2":62.8,"L3":63.0},
{"x":480,"L0":63.4,"L1":62.7,"L2":62.6,"L3":62.8},
{"x":490,"L0":63.5,"L1":62.6,"L2":62.7,"L3":63.1},
{"x":500,"L0":63.2,"L1":62.5,"L2":62.4,"L3":63.2},
{"x":510,"L0":63.0,"L1":62.3,"L2":62.2,"L3":62.2},
{"x":520,"L0":63.4,"L1":62.4,"L2":62.3,"L3":62.6},
{"x":530,"L0":63.5,"L1":62.6,"L2":62.5,"L3":63.2},
{"x":540,"L0":63.6,"L1":62.5,"L2":62.5,"L3":63.3},
{"x":550,"L0":63.2,"L1":62.6,"L2":62.4,"L3":63.3},
{"x":560,"L0":62.9,"L1":62.4,"L2":62.1,"L3":62.8},
{"x":570,"L0":63.0,"L1":62.5,"L2":62.3,"L3":63.0},
{"x":580,"L0":63.4,"L1":62.6,"L2":62.4,"L3":63.0},
{"x":590,"L0":63.5,"L1":62.6,"L2":62.5,"L3":62.9},
{"x":600,"L0":63.4,"L1":62.6,"L2":62.5,"L3":62.8},
{"x":610,"L0":63.4,"L1":62.6,"L2":62.5,"L3":62.7},
{"x":620,"L0":63.3,"L1":62.5,"L2":62.4,"L3":62.7},
{"x":630,"L0":63.3,"L1":62.6,"L2":62.4,"L3":62.6},
{"x":640,"L0":62.9,"L1":62.4,"L2":62.3,"L3":62.4},
{"x":650,"L0":63.6,"L1":62.5,"L2":62.3,"L3":62.3},
{"x":660,"L0":63.5,"L1":62.6,"L2":62.5,"L3":62.8},
{"x":670,"L0":63.3,"L1":62.6,"L2":62.6,"L3":62.9},
{"x":680,"L0":63.2,"L1":62.6,"L2":62.7,"L3":63.0},
{"x":690,"L0":62.8,"L1":62.5,"L2":62.6,"L3":62.4},
{"x":700,"L0":63.5,"L1":62.6,"L2":62.8,"L3":62.5},
{"x":710,"L0":63.3,"L1":62.6,"L2":62.7,"L3":62.9},
{"x":720,"L0":63.0,"L1":62.5,"L2":62.6,"L3":63.1},
{"x":730,"L0":63.3,"L1":62.6,"L2":62.5,"L3":63.1},
{"x":740,"L0":63.3,"L1":62.3,"L2":62.4,"L3":62.2},
{"x":745,"L0":63.1,"L1":62.1,"L2":62.3,"L3":61.8},
{"x":750,"L0":62.9,"L1":62.4,"L2":62.5,"L3":62.2},
{"x":760,"L0":63.4,"L1":62.5,"L2":62.9,"L3":62.5},
{"x":770,"L0":63.6,"L1":62.6,"L2":62.8,"L3":62.9},
{"x":780,"L0":63.4,"L1":62.5,"L2":62.6,"L3":62.4},
{"x":790,"L0":63.3,"L1":62.6,"L2":62.8,"L3":63.0},
{"x":800,"L0":62.9,"L1":62.6,"L2":62.5,"L3":63.3},
{"x":810,"L0":63.5,"L1":62.7,"L2":62.6,"L3":63.0},
{"x":820,"L0":63.4,"L1":62.6,"L2":62.9,"L3":62.6},
{"x":830,"L0":63.2,"L1":62.5,"L2":62.5,"L3":62.5},
{"x":840,"L0":63.5,"L1":62.8,"L2":62.9,"L3":63.0},
{"x":850,"L0":63.9,"L1":63.8,"L2":63.8,"L3":63.9},
{"x":855,"L0":64.0,"L1":64.0,"L2":64.0,"L3":64.0},
{"x":860,"L0":63.8,"L1":63.7,"L2":63.6,"L3":63.7},
{"x":870,"L0":63.0,"L1":62.8,"L2":62.9,"L3":62.8},
{"x":880,"L0":63.6,"L1":63.0,"L2":63.0,"L3":63.0},
{"x":890,"L0":63.1,"L1":62.8,"L2":62.8,"L3":62.9},
{"x":900,"L0":63.6,"L1":62.7,"L2":62.8,"L3":62.6},
{"x":905,"L0":63.3,"L1":62.5,"L2":62.6,"L3":62.2},
{"x":910,"L0":63.0,"L1":62.6,"L2":62.7,"L3":62.6},
{"x":920,"L0":63.3,"L1":62.7,"L2":62.8,"L3":62.8},
{"x":930,"L0":63.5,"L1":62.8,"L2":62.9,"L3":63.0},
{"x":940,"L0":63.2,"L1":62.7,"L2":62.8,"L3":62.8},
{"x":950,"L0":62.9,"L1":62.6,"L2":62.7,"L3":62.7},
{"x":960,"L0":62.8,"L1":62.6,"L2":62.6,"L3":62.6},
{"x":970,"L0":63.4,"L1":62.7,"L2":62.8,"L3":62.8},
{"x":980,"L0":63.5,"L1":62.7,"L2":62.7,"L3":62.9},
{"x":990,"L0":63.7,"L1":62.7,"L2":62.8,"L3":63.0},
{"x":1000,"L0":63.4,"L1":62.6,"L2":62.7,"L3":62.8},
{"x":1010,"L0":63.1,"L1":62.5,"L2":62.3,"L3":62.7},
{"x":1020,"L0":63.3,"L1":62.6,"L2":62.6,"L3":62.9},
{"x":1030,"L0":63.5,"L1":62.6,"L2":62.7,"L3":62.9},
{"x":1040,"L0":63.4,"L1":62.5,"L2":62.6,"L3":62.8},
{"x":1050,"L0":63.6,"L1":62.6,"L2":62.7,"L3":63.0},
{"x":1060,"L0":63.4,"L1":62.5,"L2":62.6,"L3":62.7},
{"x":1070,"L0":63.2,"L1":62.4,"L2":62.4,"L3":62.3},
{"x":1080,"L0":63.5,"L1":62.6,"L2":62.7,"L3":63.2},
{"x":1090,"L0":63.2,"L1":62.6,"L2":62.6,"L3":62.9},
{"x":1100,"L0":63.0,"L1":62.5,"L2":62.7,"L3":62.8},
{"x":1110,"L0":63.5,"L1":62.6,"L2":62.7,"L3":62.7},
{"x":1120,"L0":63.3,"L1":62.6,"L2":62.6,"L3":62.6},
{"x":1130,"L0":63.2,"L1":62.5,"L2":62.5,"L3":62.7},
{"x":1140,"L0":63.5,"L1":62.6,"L2":62.6,"L3":62.6},
{"x":1150,"L0":63.5,"L1":62.5,"L2":62.3,"L3":62.4},
{"x":1160,"L0":63.0,"L1":62.4,"L2":62.4,"L3":61.0},
{"x":1170,"L0":62.5,"L1":62.3,"L2":62.5,"L3":62.9},
{"x":1180,"L0":63.5,"L1":62.2,"L2":62.4,"L3":62.3},
{"x":1190,"L0":63.4,"L1":62.5,"L2":62.8,"L3":62.6},
{"x":1200,"L0":63.4,"L1":62.7,"L2":62.9,"L3":62.8}
]
},
"spacing":12,
"resolve":{"scale":{"color":"independent"},"legend":{"color":"independent"}},
"vconcat":[
{"width":901,"height":357,
"data":{"values":[{"a":0,"b":1,"y":1}]},
"mark":{"type":"rule","color":"black","strokeWidth":2.5},
"encoding":{"x":{"field":"a","type":"quantitative","scale":{"domain":[0,1],"range":[-34,936]},"axis":null},"x2":{"field":"b"},"y":{"field":"y","type":"quantitative","scale":{"domain":[0,1]},"axis":null}},
"title":{"text":"Preserving Plasticity in Continual Learning via Dynamical Isometry","font":"Liberation Serif","fontSize":18,"fontWeight":"bold","color":"black","anchor":"middle","offset":2},
"view":{"stroke":null}},
{"hconcat":[
{"width":444,"height":222,"title":"Baseline (ReLU+Adam) — Weight effective rank per layer",
"encoding":{"x":{"field":"x","type":"quantitative","scale":{"domain":[-60,1260],"nice":false,"zero":false},"axis":{"title":"Cumulative steps","values":[0,200,400,600,800,1000,1200],"labelExpr":"datum.value == 0 ? '0' : datum.value < 1000 ? datum.value + 'M' : format(datum.value / 1000, '.1f') + 'G'"}}},
"layer":[
{"data":{"name":"minor"},"mark":{"type":"rule","color":"#e9e9e9","strokeWidth":0.8},"encoding":{}},
{"data":{"name":"major"},"mark":{"type":"rule","color":"#cccccc","strokeWidth":0.8,"strokeDash":[3,3]},"encoding":{}},
{"data":{"name":"base"},"transform":[{"fold":["L0","L1","L2","L3"],"as":["k","v"]}],"mark":{"type":"line","strokeWidth":1,"opacity":0.85},
"encoding":{"y":{"field":"v","type":"quantitative","scale":{"domain":[17.75,66.15],"nice":false,"zero":false},"axis":{"title":"Effective rank","values":[20,30,40,50,60]}},
"color":{"field":"k","type":"nominal","scale":{"domain":["L0","L1","L2","L3"],"range":["#1f77b4","#ff7f0e","#2ca02c","#d62728"]},"legend":{"title":null,"orient":"bottom-right","labelExpr":"'Layer ' + slice(datum.label, 1)"}}}}
]},
{"width":444,"height":222,"title":"NaP — Weight effective rank per layer",
"encoding":{"x":{"field":"x","type":"quantitative","scale":{"domain":[-60,1260],"nice":false,"zero":false},"axis":{"title":"Cumulative steps","values":[0,200,400,600,800,1000,1200],"labelExpr":"datum.value == 0 ? '0' : datum.value < 1000 ? datum.value + 'M' : format(datum.value / 1000, '.1f') + 'G'"}}},
"layer":[
{"data":{"name":"minor"},"mark":{"type":"rule","color":"#e9e9e9","strokeWidth":0.8},"encoding":{}},
{"data":{"name":"major"},"mark":{"type":"rule","color":"#cccccc","strokeWidth":0.8,"strokeDash":[3,3]},"encoding":{}},
{"data":{"name":"nap"},"transform":[{"fold":["L0","L1","L2","L3"],"as":["k","v"]}],"mark":{"type":"line","strokeWidth":1,"opacity":0.85},
"encoding":{"y":{"field":"v","type":"quantitative","scale":{"domain":[9.95,66.4],"nice":false,"zero":false},"axis":{"title":"Effective rank","values":[10,20,30,40,50,60]}},
"color":{"field":"k","type":"nominal","scale":{"domain":["L0","L1","L2","L3"],"range":["#1f77b4","#ff7f0e","#2ca02c","#d62728"]},"legend":{"title":null,"orient":"bottom-left","labelExpr":"'Layer ' + slice(datum.label, 1)"}}}}
]}
],"spacing":10,"resolve":{"scale":{"color":"independent"},"legend":{"color":"independent"}}},
{"hconcat":[
{"width":444,"height":222,"title":"AdaMO (ReLU) — Weight effective rank per layer",
"encoding":{"x":{"field":"x","type":"quantitative","scale":{"domain":[-60,1260],"nice":false,"zero":false},"axis":{"title":"Cumulative steps","values":[0,200,400,600,800,1000,1200],"labelExpr":"datum.value == 0 ? '0' : datum.value < 1000 ? datum.value + 'M' : format(datum.value / 1000, '.1f') + 'G'"}}},
"layer":[
{"data":{"name":"minor"},"mark":{"type":"rule","color":"#e9e9e9","strokeWidth":0.8},"encoding":{}},
{"data":{"name":"major"},"mark":{"type":"rule","color":"#cccccc","strokeWidth":0.8,"strokeDash":[3,3]},"encoding":{}},
{"data":{"name":"relu"},"transform":[{"fold":["L0","L1","L2","L3"],"as":["k","v"]}],"mark":{"type":"line","strokeWidth":1,"opacity":0.85},
"encoding":{"y":{"field":"v","type":"quantitative","scale":{"domain":[56.14,64.18],"nice":false,"zero":false},"axis":{"title":"Effective rank","values":[57,58,59,60,61,62,63,64]}},
"color":{"field":"k","type":"nominal","scale":{"domain":["L0","L1","L2","L3"],"range":["#1f77b4","#ff7f0e","#2ca02c","#d62728"]},"legend":{"title":null,"orient":"bottom-right","labelExpr":"'Layer ' + slice(datum.label, 1)"}}}}
]},
{"width":444,"height":222,"title":"AdaMO (GroupSort) — Weight effective rank per layer",
"encoding":{"x":{"field":"x","type":"quantitative","scale":{"domain":[-60,1260],"nice":false,"zero":false},"axis":{"title":"Cumulative steps","values":[0,200,400,600,800,1000,1200],"labelExpr":"datum.value == 0 ? '0' : datum.value < 1000 ? datum.value + 'M' : format(datum.value / 1000, '.1f') + 'G'"}}},
"layer":[
{"data":{"name":"minor"},"mark":{"type":"rule","color":"#e9e9e9","strokeWidth":0.8},"encoding":{}},
{"data":{"name":"major"},"mark":{"type":"rule","color":"#cccccc","strokeWidth":0.8,"strokeDash":[3,3]},"encoding":{}},
{"data":{"name":"gs"},"transform":[{"fold":["L0","L1","L2","L3"],"as":["k","v"]}],"mark":{"type":"line","strokeWidth":1,"opacity":0.85},
"encoding":{"y":{"field":"v","type":"quantitative","scale":{"domain":[57.39,64.31],"nice":false,"zero":false},"axis":{"title":"Effective rank","values":[58,59,60,61,62,63,64]}},
"color":{"field":"k","type":"nominal","scale":{"domain":["L0","L1","L2","L3"],"range":["#1f77b4","#ff7f0e","#2ca02c","#d62728"]},"legend":{"title":null,"orient":"bottom-right","labelExpr":"'Layer ' + slice(datum.label, 1)"}}}}
]}
],"spacing":10,"resolve":{"scale":{"color":"independent"},"legend":{"color":"independent"}}}
]
}
